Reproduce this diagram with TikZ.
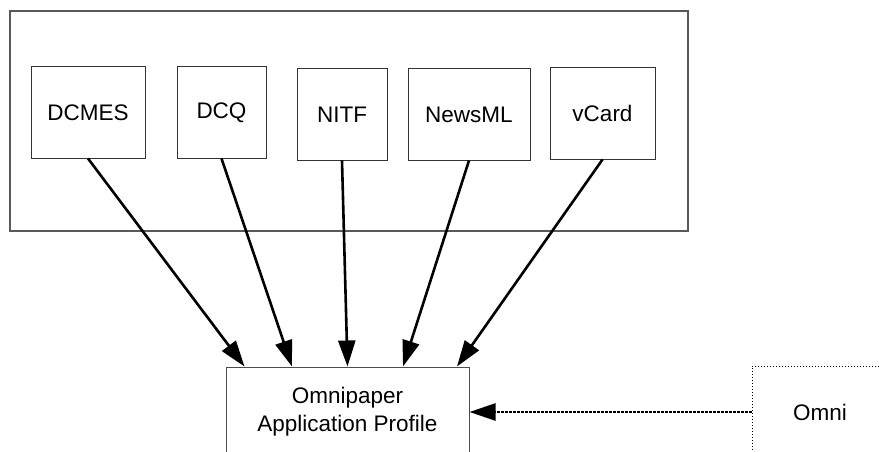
\documentclass[tikz,border=0pt]{standalone}
\usepackage{fontspec}
\setmainfont{Liberation Sans}
\usetikzlibrary{positioning,arrows.meta}

\begin{document}
\begin{tikzpicture}[x=1pt,y=-1pt,font=\fontsize{22.5}{28}\selectfont,
  >={Triangle[length=26pt,width=17pt]},
  spec/.style={draw=black!80,line width=1pt,minimum height=91pt,inner sep=0pt},
  link/.style={->,line width=2.6pt}]
\useasboundingbox (0,0) rectangle (879,452);
\clip (0,0) rectangle (879,452);
% group of source formats
\draw[black!65,line width=1.2pt] (10,11) rectangle (688,231);
\node[spec,minimum width=114pt] (dcmes) at (88,112.5) {DCMES};
\node[spec,minimum width=89pt] (dcq) at (221.5,112.5) {DCQ};
\node[spec,minimum width=90pt] (nitf) at (342,114.5) {NITF};
\node[spec,minimum width=122pt] (newsml) at (469,114.5) {NewsML};
\node[spec,minimum width=105pt] (vcard) at (602.5,113.5) {vCard};
% profile and omni
\node[draw=black!70,line width=1pt,minimum width=243pt,minimum height=90pt,align=center,inner sep=0pt]
  (profile) at (347.5,412) {Omnipaper\\Application Profile};
\node[draw,dotted,line width=1pt,minimum width=136pt,minimum height=92pt,inner sep=0pt]
  (omni) at (820,412) {Omni};
\draw[link] (dcmes.south) -- ([xshift=-103pt]profile.north);
\draw[link] (dcq.south) -- ([xshift=-55.5pt]profile.north);
\draw[link] (nitf.south) -- (profile.north);
\draw[link] (newsml.south) -- ([xshift=55.5pt]profile.north);
\draw[link] (vcard.south) -- ([xshift=109.5pt]profile.north);
\draw[link,dash pattern=on 2.5pt off 1.5pt] (omni.west) -- (profile.east);
\end{tikzpicture}
\end{document}
